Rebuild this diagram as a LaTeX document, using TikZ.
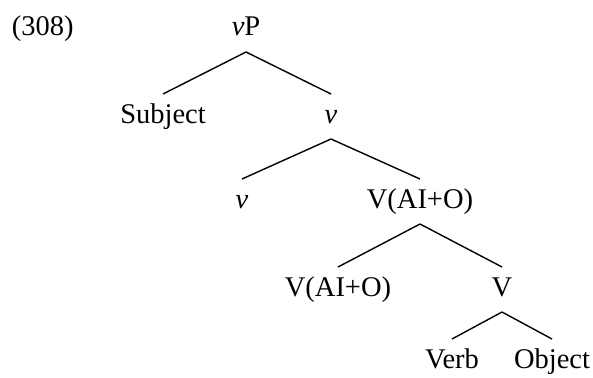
\documentclass[tikz,border=0pt]{standalone}
\usepackage{fontspec}
\setmainfont{Liberation Serif}
\usepackage{tikz}

\begin{document}
\begin{tikzpicture}[x=1pt,y=-1pt]
\tikzstyle{every node}+=[inner sep=0pt,outer sep=9pt,text height=20pt,text depth=7pt,anchor=base,font=\fontsize{28.5}{34}\selectfont]
\tikzstyle{branch}=[black,line width=1.4pt]
\useasboundingbox (0,0) rectangle (593,377);
\node [anchor=base west,outer sep=0pt] (ex) at (12,36) {(308)};
\node (vP) at (246,36) {\textit{v}P};
\node (subj) at (163,123) {Subject};
\node (vbar) at (331,123) {\textit{v}};
\node (vhead) at (242,208) {\textit{v}};
\node (VAIOa) at (420,208) {V(AI+O)};
\node (VAIOb) at (338,296) {V(AI+O)};
\node (Vbar) at (502,296) {V};
\node (verb) at (452,368) {Verb};
\node (obj) at (552,368) {Object};
\draw [branch] (vP.south) -- (subj.north);
\draw [branch] (vP.south) -- (vbar.north);
\draw [branch] (vbar.south) -- (vhead.north);
\draw [branch] (vbar.south) -- (VAIOa.north);
\draw [branch] (VAIOa.south) -- (VAIOb.north);
\draw [branch] (VAIOa.south) -- (Vbar.north);
\draw [branch] (Vbar.south) -- (verb.north);
\draw [branch] (Vbar.south) -- (obj.north);
\end{tikzpicture}
\end{document}
